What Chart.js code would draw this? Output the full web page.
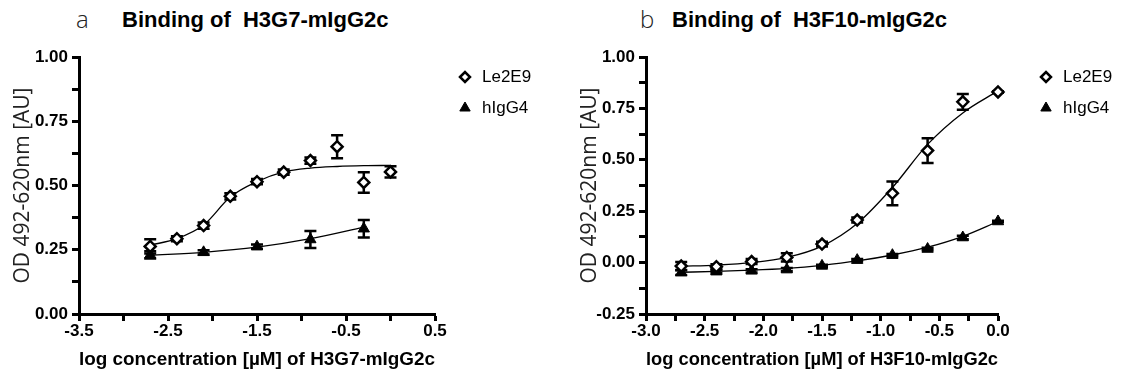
<!DOCTYPE html>
<html>
<head>
<meta charset="utf-8">
<script src="https://cdn.jsdelivr.net/npm/chart.js@4/dist/chart.umd.min.js"></script>
<style>
  body { margin: 0; width: 1125px; height: 376px; background: #fff; position: relative; overflow: hidden; font-family: "Liberation Sans", Arial, sans-serif; }
  canvas { position: absolute; top: 0; }
  #chartA { left: 0; }
  #chartB { left: 560px; }
  .tag { position: absolute; font-family: "Open Sans", sans-serif; font-weight: 300; font-size: 24px; line-height: 24px; color: #222; }
  .ttl { position: absolute; font-weight: bold; font-size: 22px; line-height: 22px; color: #000; white-space: pre; }
</style>
</head>
<body>
<div class="tag" style="left:76px; top:7px;">a</div>
<div class="ttl" style="left:122px; top:9px;">Binding of  H3G7-mIgG2c</div>
<div class="tag" style="left:640px; top:7px;">b</div>
<div class="ttl" style="left:672px; top:9px;">Binding of  H3F10-mIgG2c</div>
<canvas id="chartA" width="560" height="376"></canvas>
<canvas id="chartB" width="565" height="376"></canvas>
<script>
// log concentration [uM] where samples were measured
const concA = [-2.7, -2.4, -2.1, -1.8, -1.5, -1.2, -0.9, -0.6, -0.3, 0.0];
const concA_hIgG4 = [-2.7, -2.1, -1.5, -0.9, -0.3];
const concB = [-2.7, -2.4, -2.1, -1.8, -1.5, -1.2, -0.9, -0.6, -0.3, 0.0];

// panel a: H3G7-mIgG2c
const le2e9A = [0.263, 0.293, 0.344, 0.458, 0.515, 0.552, 0.597, 0.651, 0.512, 0.553];
const le2e9A_err = [0.028, 0.010, 0.012, 0.012, 0.010, 0.010, 0.012, 0.045, 0.040, 0.022];
const le2e9A_fit = [0.268, 0.293, 0.346, 0.455, 0.515, 0.553, 0.568, 0.574, 0.577, 0.578];
const hIgG4A = [0.230, 0.240, 0.262, 0.290, 0.332];
const hIgG4A_err = [0.014, 0.008, 0.008, 0.033, 0.034];
const hIgG4A_fit = [0.228, 0.240, 0.260, 0.293, 0.338];

// panel b: H3F10-mIgG2c
const le2e9B = [-0.017, -0.020, 0.005, 0.025, 0.090, 0.207, 0.337, 0.545, 0.782, 0.830];
const le2e9B_err = [0.020, 0.012, 0.012, 0.020, 0.012, 0.012, 0.058, 0.060, 0.038, 0.004];
const le2e9B_fit = [-0.018, -0.012, 0.000, 0.025, 0.080, 0.190, 0.365, 0.575, 0.728, 0.835];
const hIgG4B = [-0.048, -0.044, -0.040, -0.034, -0.016, 0.012, 0.036, 0.066, 0.122, 0.200];
const hIgG4B_err = [0.012, 0.008, 0.008, 0.008, 0.006, 0.006, 0.006, 0.006, 0.008, 0.004];
const hIgG4B_fit = [-0.047, -0.043, -0.037, -0.028, -0.013, 0.008, 0.037, 0.075, 0.128, 0.200];

// tick labels
const xLabelsA = ['-3.5', '-2.5', '-1.5', '-0.5', '0.5'];
const xLabelsB = ['-3.0', '-2.5', '-2.0', '-1.5', '-1.0', '-0.5', '0.0'];
const yLabels = ['-0.25', '0.00', '0.25', '0.50', '0.75', '1.00'];
const seriesNames = ['Le2E9', 'hIgG4'];

Chart.defaults.font.family = '"Liberation Sans", Arial, sans-serif';
Chart.defaults.color = '#000';

function pts(xs, ys) {
    return xs.map((x, i) => ({ x: x, y: ys[i] }));
}

// vertical error bars with caps, drawn under the markers
const errorBars = {
    id: 'errorBars',
    beforeDatasetsDraw(chart) {
        const ctx = chart.ctx;
        const xs = chart.scales.x, ys = chart.scales.y;
        ctx.save();
        ctx.strokeStyle = '#000';
        ctx.lineWidth = 2.5;
        chart.data.datasets.forEach(ds => {
            if (!ds.errors) return;
            ds.data.forEach((p, i) => {
                const e = ds.errors[i];
                const px = xs.getPixelForValue(p.x);
                const top = ys.getPixelForValue(p.y + e);
                const bot = ys.getPixelForValue(p.y - e);
                ctx.beginPath();
                ctx.moveTo(px, top); ctx.lineTo(px, bot);
                ctx.moveTo(px - 6, top); ctx.lineTo(px + 6, top);
                ctx.moveTo(px - 6, bot); ctx.lineTo(px + 6, bot);
                ctx.stroke();
            });
        });
        ctx.restore();
    }
};

// legend to the right of the plot
const sideKey = {
    id: 'sideKey',
    afterDraw(chart, args, opts) {
        const ctx = chart.ctx;
        const x = chart.chartArea.right + opts.gap;
        ctx.save();
        ctx.font = '17px "Liberation Sans", Arial, sans-serif';
        ctx.textBaseline = 'middle';
        ctx.textAlign = 'left';
        // diamond
        ctx.fillStyle = '#fff';
        ctx.strokeStyle = '#000';
        ctx.lineWidth = 2.5;
        Chart.helpers.drawPoint(ctx, { pointStyle: 'rectRot', radius: 5, borderWidth: 2.5, rotation: 0 }, x, opts.rows[0]);
        // triangle
        ctx.fillStyle = '#000';
        ctx.lineWidth = 1;
        Chart.helpers.drawPoint(ctx, { pointStyle: 'triangle', radius: 6, borderWidth: 1, rotation: 0 }, x, opts.rows[1]);
        ctx.fillStyle = '#000';
        ctx.fillText(seriesNames[0], x + 17, opts.rows[0]);
        ctx.fillText(seriesNames[1], x + 17, opts.rows[1]);
        ctx.restore();
    }
};

function makeChart(id, p) {
    const datasets = [
        { data: pts(p.conc1, p.fit1), showLine: true, pointRadius: 0, borderColor: '#000', borderWidth: 1.3, cubicInterpolationMode: 'monotone', clip: false, order: 3 },
        { data: pts(p.conc2, p.fit2), showLine: true, pointRadius: 0, borderColor: '#000', borderWidth: 1.3, cubicInterpolationMode: 'monotone', clip: false, order: 3 },
        { label: seriesNames[1], data: pts(p.conc2, p.y2), errors: p.e2, showLine: false, pointStyle: 'triangle', pointRadius: 6.5, pointBorderWidth: 1, pointBackgroundColor: '#000', pointBorderColor: '#000', clip: false, order: 2 },
        { label: seriesNames[0], data: pts(p.conc1, p.y1), errors: p.e1, showLine: false, pointStyle: 'rectRot', pointRadius: 5.5, pointBorderWidth: 2.5, pointBackgroundColor: '#fff', pointBorderColor: '#000', clip: false, order: 1 }
    ];
    return new Chart(document.getElementById(id), {
        type: 'scatter',
        data: { datasets: datasets },
        plugins: [errorBars, sideKey],
        options: {
            responsive: false,
            animation: false,
            layout: { padding: { left: 0, right: p.padRight, top: 57, bottom: 0 } },
            plugins: {
                legend: { display: false },
                tooltip: { enabled: false },
                sideKey: { gap: p.keyGap, rows: [77, 108] }
            },
            scales: {
                x: {
                    type: 'linear',
                    position: 'bottom',
                    min: p.xMin, max: p.xMax,
                    afterFit: s => { s.height = 62; },
                    ticks: {
                        stepSize: p.xStep,
                        autoSkip: false,
                        maxRotation: 0,
                        padding: 0,
                        font: { size: 17, weight: 'bold' },
                        callback: v => {
                            const t = (Math.round(v * 100) / 100).toFixed(1);
                            return p.xLabels.includes(t) ? t : '';
                        }
                    },
                    grid: { drawOnChartArea: false, drawTicks: true, tickLength: 7, tickWidth: 3, tickColor: '#000' },
                    border: { color: '#000', width: 3 },
                    title: {
                        display: true,
                        text: p.xTitle,
                        font: { size: 19, weight: 'bold', lineHeight: 1.2 },
                        padding: { top: 0, bottom: 4.6 }
                    }
                },
                y: {
                    type: 'linear',
                    min: p.yMin, max: 1,
                    afterFit: s => { s.width = p.yWidth; },
                    ticks: {
                        stepSize: 0.125,
                        autoSkip: false,
                        padding: 4,
                        font: { size: 17, weight: 'bold' },
                        callback: v => {
                            const t = (Math.round(v * 1000) / 1000).toFixed(2);
                            return yLabels.includes(t) ? t : '';
                        }
                    },
                    grid: { drawOnChartArea: false, drawTicks: true, tickLength: 7, tickWidth: 3, tickColor: '#000' },
                    border: { color: '#000', width: 3 },
                    title: {
                        display: true,
                        text: 'OD 492-620nm [AU]',
                        color: '#222',
                        font: { family: '"Open Sans", sans-serif', size: 21, weight: 'normal', lineHeight: 1 },
                        padding: { top: p.yTitlePad, bottom: 0 }
                    }
                }
            }
        }
    });
}

makeChart('chartA', {
    conc1: concA, y1: le2e9A, e1: le2e9A_err, fit1: le2e9A_fit,
    conc2: concA_hIgG4, y2: hIgG4A, e2: hIgG4A_err, fit2: hIgG4A_fit,
    xMin: -3.5, xMax: 0.5, xStep: 0.5, xLabels: xLabelsA, yMin: 0,
    xTitle: 'log concentration [\u00b5M] of H3G7-mIgG2c',
    yWidth: 79, yTitlePad: 12.5, padRight: 125, keyGap: 30
});

makeChart('chartB', {
    conc1: concB, y1: le2e9B, e1: le2e9B_err, fit1: le2e9B_fit,
    conc2: concB, y2: hIgG4B, e2: hIgG4B_err, fit2: hIgG4B_fit,
    xMin: -3.0, xMax: 0.0, xStep: 0.25, xLabels: xLabelsB, yMin: -0.25,
    xTitle: 'log concentration [\u00b5M] of H3F10-mIgG2c',
    yWidth: 86, yTitlePad: 19.5, padRight: 127, keyGap: 48
});
</script>
</body>
</html>
